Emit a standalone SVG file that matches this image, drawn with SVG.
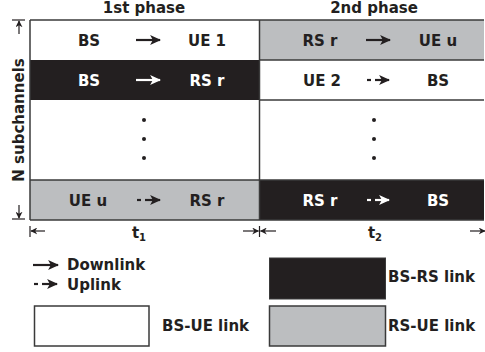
<svg xmlns="http://www.w3.org/2000/svg" width="485" height="352" viewBox="0 0 485 352">
  <style>
    .t { font-family: "DejaVu Sans", "Liberation Sans", sans-serif; font-weight: bold; font-size: 15px; fill: #231f20; }
    .w { fill: #ffffff; }
    .c { text-anchor: middle; }
    .grid { stroke: #3a3a3a; stroke-width: 1.5; fill: none; }
    .arr { stroke: #231f20; stroke-width: 2.2; fill: none; }
    .arrw { stroke: #ffffff; stroke-width: 2.2; fill: none; }
    .ax { stroke: #231f20; stroke-width: 1.2; fill: none; }
    .dot { fill: #231f20; }
  </style>
  <defs>
    <marker id="head" viewBox="0 0 10 10" refX="9" refY="5" markerWidth="11" markerHeight="11" markerUnits="userSpaceOnUse" orient="auto">
      <path d="M0,0.5 L10,5 L0,9.5 L2.5,5 z" fill="#231f20"/>
    </marker>
    <marker id="headw" viewBox="0 0 10 10" refX="9" refY="5" markerWidth="11" markerHeight="11" markerUnits="userSpaceOnUse" orient="auto">
      <path d="M0,0.5 L10,5 L0,9.5 L2.5,5 z" fill="#ffffff"/>
    </marker>
    <marker id="axhead" viewBox="0 0 10 10" refX="9" refY="5" markerWidth="7" markerHeight="7" markerUnits="userSpaceOnUse" orient="auto">
      <path d="M0,0 L10,5 L0,10 L3,5 z" fill="#231f20"/>
    </marker>
  </defs>

  <!-- phase headers -->
  <text class="t c" x="144" y="12.5">1st phase</text>
  <text class="t c" x="374" y="12.5">2nd phase</text>

  <!-- subchannel axis -->
  <g id="axis-subchannels">
    <line class="ax" x1="12" y1="20" x2="25" y2="20"/>
    <line class="ax" x1="19" y1="34" x2="19" y2="21" marker-end="url(#axhead)"/>
    <line class="ax" x1="12" y1="219" x2="25" y2="219"/>
    <line class="ax" x1="19" y1="205" x2="19" y2="218" marker-end="url(#axhead)"/>
    <text class="t c" transform="translate(24,120) rotate(-90)" x="0" y="0">N subchannels</text>
  </g>

  <!-- cells, phase 1 -->
  <g id="cell-p1-r1">
    <rect x="30" y="20" width="229.5" height="40" fill="#ffffff"/>
    <text class="t c" x="89" y="46">BS</text>
    <line class="arr" x1="136" y1="40" x2="160" y2="40" marker-end="url(#head)"/>
    <text class="t c" x="207" y="46">UE 1</text>
  </g>
  <g id="cell-p1-r2">
    <rect x="30" y="60" width="229.5" height="40" fill="#231f20"/>
    <text class="t c w" x="89" y="86">BS</text>
    <line class="arrw" x1="136" y1="80" x2="160" y2="80" marker-end="url(#headw)"/>
    <text class="t c w" x="207" y="86">RS r</text>
  </g>
  <g id="cell-p1-r3">
    <circle class="dot" cx="144" cy="120" r="2"/>
    <circle class="dot" cx="144" cy="139" r="2"/>
    <circle class="dot" cx="144" cy="158" r="2"/>
  </g>
  <g id="cell-p1-r4">
    <rect x="30" y="180" width="229.5" height="40" fill="#bcbec0"/>
    <text class="t c" x="88" y="206">UE u</text>
    <line class="arr" x1="137" y1="200" x2="141" y2="200"/>
    <line class="arr" x1="145" y1="200" x2="160" y2="200" marker-end="url(#head)"/>
    <text class="t c" x="207" y="206">RS r</text>
  </g>

  <!-- cells, phase 2 -->
  <g id="cell-p2-r1">
    <rect x="259.5" y="20" width="224.5" height="40" fill="#bcbec0"/>
    <text class="t c" x="320" y="46">RS r</text>
    <line class="arr" x1="366" y1="40" x2="390" y2="40" marker-end="url(#head)"/>
    <text class="t c" x="438" y="46">UE u</text>
  </g>
  <g id="cell-p2-r2">
    <rect x="259.5" y="60" width="224.5" height="40" fill="#ffffff"/>
    <text class="t c" x="322" y="86">UE 2</text>
    <line class="arr" x1="367" y1="80" x2="371" y2="80"/>
    <line class="arr" x1="375" y1="80" x2="389" y2="80" marker-end="url(#head)"/>
    <text class="t c" x="438" y="86">BS</text>
  </g>
  <g id="cell-p2-r3">
    <circle class="dot" cx="374" cy="120" r="2"/>
    <circle class="dot" cx="374" cy="139" r="2"/>
    <circle class="dot" cx="374" cy="158" r="2"/>
  </g>
  <g id="cell-p2-r4">
    <rect x="259.5" y="180" width="224.5" height="40" fill="#231f20"/>
    <text class="t c w" x="320" y="206">RS r</text>
    <line class="arrw" x1="367" y1="200" x2="371" y2="200"/>
    <line class="arrw" x1="375" y1="200" x2="389" y2="200" marker-end="url(#headw)"/>
    <text class="t c w" x="438" y="206">BS</text>
  </g>

  <!-- grid lines -->
  <g id="grid">
    <line class="grid" x1="30" y1="20" x2="484" y2="20"/>
    <line class="grid" x1="30" y1="20" x2="30" y2="220"/>
    <line class="grid" x1="30" y1="220" x2="484" y2="220"/>
    <line class="grid" x1="259.5" y1="20" x2="259.5" y2="220"/>
    <line class="grid" x1="259.5" y1="60" x2="484" y2="60"/>
    <line class="grid" x1="259.5" y1="100" x2="484" y2="100"/>
    <line class="grid" x1="30" y1="180" x2="484" y2="180"/>
  </g>

  <!-- time axis -->
  <g id="axis-time">
    <line class="ax" x1="30" y1="226" x2="30" y2="237"/>
    <line class="ax" x1="45" y1="231" x2="31" y2="231" marker-end="url(#axhead)"/>
    <text class="t c" x="139" y="238">t<tspan font-size="10" dy="3">1</tspan></text>
    <line class="ax" x1="243" y1="231" x2="258.5" y2="231" marker-end="url(#axhead)"/>
    <line class="ax" x1="259.5" y1="226" x2="259.5" y2="237"/>
    <line class="ax" x1="276" y1="231" x2="260.5" y2="231" marker-end="url(#axhead)"/>
    <text class="t c" x="375" y="238">t<tspan font-size="10" dy="3">2</tspan></text>
    <line class="ax" x1="470" y1="231" x2="485" y2="231" marker-end="url(#axhead)"/>
  </g>

  <!-- legend -->
  <g id="legend-downlink">
    <line class="arr" x1="33" y1="265" x2="58" y2="265" marker-end="url(#head)"/>
    <text class="t" x="67" y="270">Downlink</text>
  </g>
  <g id="legend-uplink">
    <line class="arr" x1="34" y1="284" x2="38" y2="284"/>
    <line class="arr" x1="42" y1="284" x2="57" y2="284" marker-end="url(#head)"/>
    <text class="t" x="67" y="290">Uplink</text>
  </g>
  <g id="legend-bs-ue">
    <rect x="34.5" y="306" width="114.5" height="40" fill="#ffffff" stroke="#3a3a3a" stroke-width="1.5"/>
    <text class="t" x="162" y="331">BS-UE link</text>
  </g>
  <g id="legend-bs-rs">
    <rect x="269.5" y="258" width="116" height="41" fill="#231f20" stroke="#3a3a3a" stroke-width="1"/>
    <text class="t" x="388" y="282">BS-RS link</text>
  </g>
  <g id="legend-rs-ue">
    <rect x="269.5" y="306" width="116" height="40" fill="#bcbec0" stroke="#3a3a3a" stroke-width="1.5"/>
    <text class="t" x="388" y="331">RS-UE link</text>
  </g>
</svg>
